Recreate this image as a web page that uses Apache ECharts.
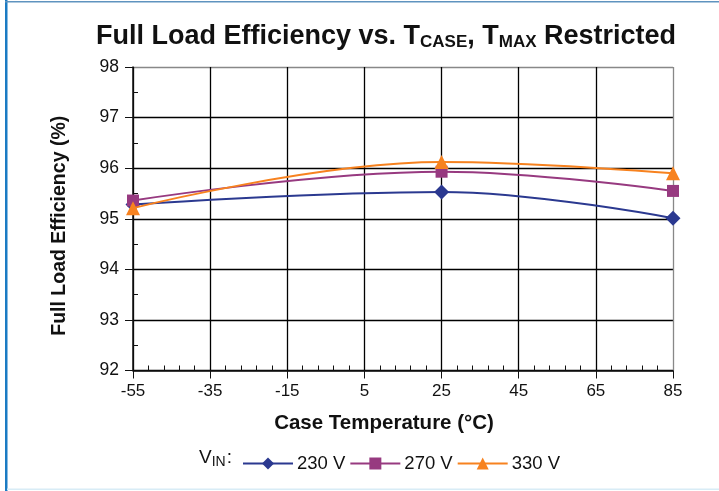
<!DOCTYPE html>
<html>
<head>
<meta charset="utf-8">
<script src="https://cdn.jsdelivr.net/npm/echarts@6/dist/echarts.min.js"></script>
<style>
html,body{margin:0;padding:0;background:#fff;}
#chart{width:719px;height:491px;}
</style>
</head>
<body>
<div id="chart"></div>
<script>
// Data (case temperature in °C, efficiency in %)
const temps = [-55, 25, 85];
const eff230 = [95.28, 95.53, 95.01];
const eff270 = [95.36, 95.93, 95.55];
const eff330 = [95.21, 96.12, 95.90];
const seriesNames = ['230 V', '270 V', '330 V'];
const xTicks = [-55, -35, -15, 5, 25, 45, 65, 85];
const yTicks = [92, 93, 94, 95, 96, 97, 98];

const X0 = xTicks[0]; // axis offset so ticks start at a multiple of the interval
const toPts = (vals) => temps.map((t, i) => [t - X0, vals[i]]);

const colors = ['#2b3990', '#973a80', '#f7821f'];
const symbols = ['diamond', 'rect', 'triangle'];
const sizes = [15, 12, 14];
const datasets = [eff230, eff270, eff330];

const chart = echarts.init(document.getElementById('chart'));
const font = 'Liberation Sans, Arial, Helvetica, sans-serif';

const vLineColors = xTicks.map((t, i) => i === xTicks.length - 1 ? '#888' : '#000');
const hLineColors = yTicks.map((t, i) => i === yTicks.length - 1 ? '#888' : '#000');

chart.setOption({
  animation: false,
  backgroundColor: '#fff',
  textStyle: { fontFamily: font },
  title: {
    text: 'Full Load Efficiency vs. T{sub|CASE}, T{sub|MAX} Restricted',
    left: 381,
    textAlign: 'center',
    top: 17,
    textStyle: {
      fontFamily: font, fontSize: 27, fontWeight: 'bold', color: '#111',
      rich: { sub: { fontFamily: font, fontSize: 17, fontWeight: 'bold', color: '#111', verticalAlign: 'bottom', padding: [12, 0, 0, 0] } }
    }
  },
  grid: { left: 133, right: 46, top: 67, bottom: 120.5, containLabel: false },
  xAxis: {
    type: 'value',
    min: 0,
    max: xTicks[xTicks.length - 1] - X0,
    interval: 20,
    name: 'Case Temperature (°C)',
    nameLocation: 'middle',
    nameGap: 42,
    nameTextStyle: { fontFamily: font, fontSize: 20.5, fontWeight: 'bold', color: '#111', padding: [0, 38, 0, 0] },
    axisLine: { show: true, onZero: false, lineStyle: { color: '#111', width: 1.5 } },
    axisTick: { show: true, length: 8, lineStyle: { color: '#111', width: 1 } },
    minorTick: { show: true, splitNumber: 5, length: -5, lineStyle: { color: '#111', width: 1 } },
    axisLabel: { fontFamily: font, fontSize: 17, color: '#111', margin: 12, formatter: (v) => String(v + X0) },
    splitLine: { show: true, lineStyle: { color: vLineColors, width: 1.3 } }
  },
  yAxis: {
    type: 'value',
    min: yTicks[0],
    max: yTicks[yTicks.length - 1],
    interval: 1,
    name: 'Full Load Efficiency (%)',
    nameLocation: 'middle',
    nameGap: 63,
    nameTextStyle: { fontFamily: font, fontSize: 19.5, fontWeight: 'bold', color: '#111', padding: [0, 14, 0, 0] },
    axisLine: { show: true, onZero: false, lineStyle: { color: '#111', width: 1.5 } },
    axisTick: { show: true, length: 8, lineStyle: { color: '#111', width: 1 } },
    minorTick: { show: true, splitNumber: 2, length: -5, lineStyle: { color: '#111', width: 1 } },
    axisLabel: { fontFamily: font, fontSize: 17.5, color: '#111', margin: 14 },
    splitLine: { show: true, lineStyle: { color: hLineColors, width: 1.3 } }
  },
  legend: {
    data: seriesNames,
    left: 237,
    top: 449,
    itemWidth: 50,
    itemHeight: 15,
    itemGap: 4,
    textStyle: { fontFamily: font, fontSize: 18.5, color: '#111', padding: [0, 0, 0, -1] }
  },
  graphic: [
    {
      type: 'text',
      left: 199,
      top: 448,
      style: {
        text: 'V{sub|IN}:',
        font: '19px ' + font,
        fill: '#111',
        rich: { sub: { font: '14px ' + font, fill: '#111', verticalAlign: 'bottom', padding: [9, 1, 0, 0] } }
      }
    },
    { type: 'rect', shape: { x: 5, y: 0, width: 2.5, height: 491 }, style: { fill: '#1b7bc3' }, silent: true },
    { type: 'rect', shape: { x: 5, y: 1, width: 714, height: 1.5 }, style: { fill: '#5f93bf' }, silent: true },
    { type: 'rect', shape: { x: 7, y: 488.5, width: 712, height: 1.5 }, style: { fill: '#d8ecf6' }, silent: true }
  ],
  series: datasets.map((vals, i) => ({
    name: seriesNames[i],
    type: 'line',
    data: toPts(vals),
    smooth: 0.4,
    symbol: symbols[i],
    symbolSize: sizes[i],
    showAllSymbol: true,
    color: colors[i],
    lineStyle: { color: colors[i], width: 2 },
    itemStyle: { color: colors[i] },
    z: 3 + i
  }))
});
</script>
</body>
</html>
